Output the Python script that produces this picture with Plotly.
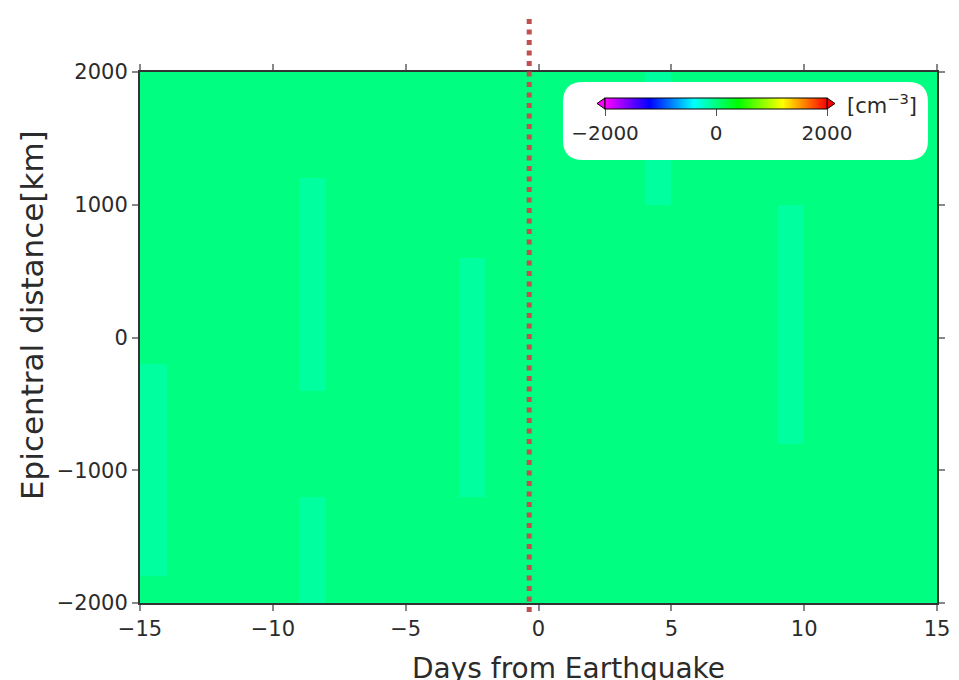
import plotly.graph_objects as go

# ---- data ----
day_centers = [-14.5, -13.5, -12.5, -11.5, -10.5, -9.5, -8.5, -7.5, -6.5, -5.5,
               -4.5, -3.5, -2.5, -1.5, -0.5, 0.5, 1.5, 2.5, 3.5, 4.5,
               5.5, 6.5, 7.5, 8.5, 9.5, 10.5, 11.5, 12.5, 13.5, 14.5]
dist_centers = [-1900, -1700, -1500, -1300, -1100, -900, -700, -500, -300, -100,
                100, 300, 500, 700, 900, 1100, 1300, 1500, 1700, 1900]
background_value = 0
patch_day_start = [-15, -9, -9, -3, 4, 9]
patch_day_end = [-14, -8, -8, -2, 5, 10]
patch_dist_low = [-1800, -400, -2000, -1200, 1000, -800]
patch_dist_high = [-200, 1200, -1200, 600, 2000, 1000]
patch_value = [-100, -100, -100, -100, -100, -100]
quake_day = -0.35
cbar_ticks = [-2000, 0, 2000]
x_ticks = [-15, -10, -5, 0, 5, 10, 15]
y_ticks = [-2000, -1000, 0, 1000, 2000]

z = []
for d in dist_centers:
    row = []
    for t in day_centers:
        v = background_value
        for a, b, lo, hi, pv in zip(patch_day_start, patch_day_end, patch_dist_low, patch_dist_high, patch_value):
            if a <= t <= b and lo <= d <= hi:
                v = pv
        row.append(v)
    z.append(row)

rainbow = [[0.0, 'rgb(255,0,255)'], [0.2, 'rgb(0,0,255)'], [0.4, 'rgb(0,255,255)'],
           [0.6, 'rgb(0,255,0)'], [0.8, 'rgb(255,255,0)'], [1.0, 'rgb(255,0,0)']]

FONT = "DejaVu Sans"
TXT = "#2b2b2b"

# page offset (browser body margin) and plot area in page pixels
OFF = 8
W, H = 959 - OFF, 680 - OFF
L, R, T, B = 140, 937, 72, 603
def px(xp):
    return (xp - L) / (R - L)
def py(yp):
    return (B - yp) / (B - T)

fig = go.Figure()
fig.add_trace(go.Heatmap(
    x=day_centers, y=dist_centers, z=z, zmin=-2000, zmax=2000,
    colorscale=rainbow, zsmooth=False, hoverinfo='skip',
    colorbar=dict(
        orientation='h', lenmode='pixels', len=222, thickness=11,
        x=px(605), xanchor='left', y=py(98), yanchor='top',
        xpad=0, ypad=0, outlinewidth=1, outlinecolor='black',
        tickvals=cbar_ticks, ticks='outside', ticklen=7, tickcolor='#555',
        tickfont=dict(family=FONT, size=20, color=TXT),
    ),
))

shapes = []
# white rounded legend box
x0, x1, y0, y1, r = 563, 928, 82, 160, 20
def P(xp, yp):
    return f"{px(xp):.5f},{py(yp):.5f}"
path = (f"M {P(x0 + r, y0)} L {P(x1 - r, y0)} Q {P(x1, y0)} {P(x1, y0 + r)} "
        f"L {P(x1, y1 - r)} Q {P(x1, y1)} {P(x1 - r, y1)} L {P(x0 + r, y1)} "
        f"Q {P(x0, y1)} {P(x0, y1 - r)} L {P(x0, y0 + r)} Q {P(x0, y0)} {P(x0 + r, y0)} Z")
shapes.append(dict(type='path', xref='paper', yref='paper', path=path,
                   fillcolor='white', line=dict(width=0), layer='above'))
# colorbar end triangles
shapes.append(dict(type='path', xref='paper', yref='paper',
                   path=f"M {P(605, 98)} L {P(597, 103.5)} L {P(605, 109)} Z",
                   fillcolor='rgb(255,0,255)', line=dict(color='black', width=1), layer='above'))
shapes.append(dict(type='path', xref='paper', yref='paper',
                   path=f"M {P(827, 98)} L {P(835, 103.5)} L {P(827, 109)} Z",
                   fillcolor='rgb(255,0,0)', line=dict(color='black', width=1), layer='above'))
# earthquake dotted line
shapes.append(dict(type='line', xref='x', yref='paper', x0=quake_day, x1=quake_day,
                   y0=py(612), y1=py(14),
                   line=dict(color='rgb(192,80,77)', width=5, dash='5px,5.5px'), layer='above'))

annotations = [
    dict(text='[cm<sup>−3</sup>]', xref='paper', yref='paper', x=px(845), y=py(104),
         xanchor='left', yanchor='middle', showarrow=False,
         font=dict(family=FONT, size=21, color=TXT)),
    dict(text='Days from Earthquake', xref='paper', yref='paper', x=px(410), y=py(650),
         xanchor='left', yanchor='top', showarrow=False,
         font=dict(family=FONT, size=28, color=TXT)),
    dict(text='Epicentral distance[km]', xref='paper', yref='paper', x=px(32), y=py(502),
         xanchor='center', yanchor='bottom', textangle=-90, showarrow=False,
         font=dict(family=FONT, size=31, color=TXT)),
]

fig.update_layout(
    width=W, height=H,
    margin=dict(l=L - OFF, r=W - (R - OFF), t=T - OFF, b=H - (B - OFF), autoexpand=False),
    paper_bgcolor='white', plot_bgcolor='white',
    shapes=shapes, annotations=annotations,
    font=dict(family=FONT, color=TXT),
    xaxis=dict(range=[-15, 15], tickvals=x_ticks, showline=True, linecolor='#333', linewidth=2,
               mirror='ticks', ticks='outside', ticklen=6, tickcolor='#888', tickwidth=1.5,
               showgrid=False, zeroline=False,
               tickfont=dict(family=FONT, size=21, color=TXT)),
    yaxis=dict(range=[-2000, 2000], tickvals=y_ticks, showline=True, linecolor='#333', linewidth=2,
               mirror='ticks', ticks='outside', ticklen=6, tickcolor='#888', tickwidth=1.5,
               showgrid=False, zeroline=False,
               tickfont=dict(family=FONT, size=21, color=TXT)),
)

fig.write_html("out.html")
